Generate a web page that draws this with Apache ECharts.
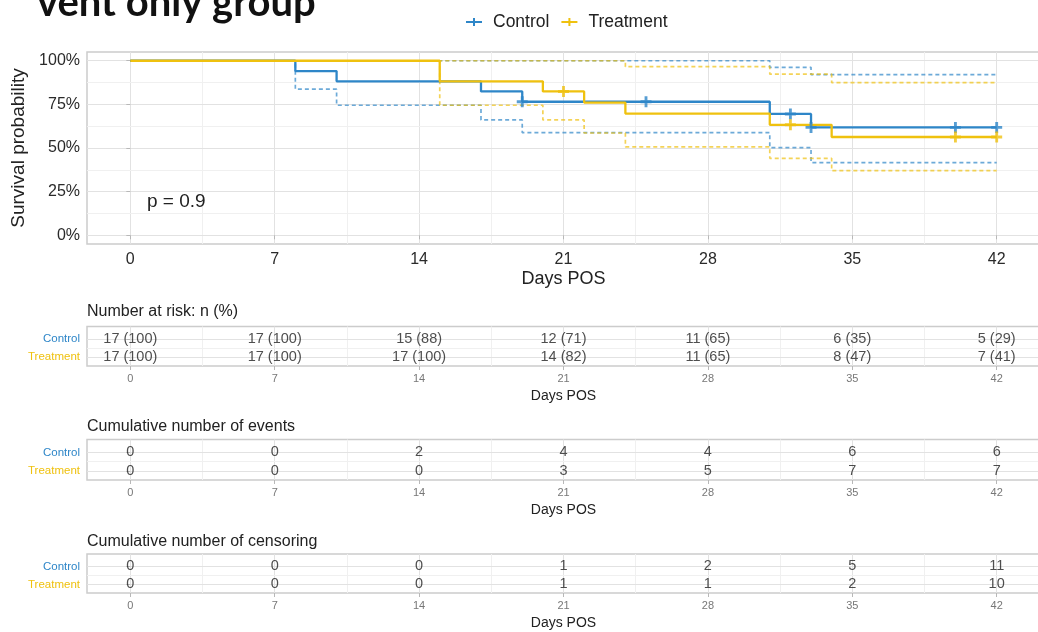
<!DOCTYPE html>
<html><head><meta charset="utf-8">
<script src="https://cdn.jsdelivr.net/npm/echarts@6/dist/echarts.min.js"></script>
<style>html,body{margin:0;padding:0;background:#fff;}#c{width:1038px;height:632px;}</style>
</head><body><div id="c"></div>
<script>
// ---------- data ----------
const dayTicks = [0, 7, 14, 21, 28, 35, 42];
const minorDayTicks = [3.5, 10.5, 17.5, 24.5, 31.5, 38.5];
const pctTicks = [0, 25, 50, 75, 100];
const minorPctTicks = [12.5, 37.5, 62.5, 87.5];
const groups = ['Control', 'Treatment'];

const ctrlTimes = [0, 8, 10, 17, 19, 31, 33, 42];
const ctrlSurv  = [100, 94.1, 88.2, 82.4, 76.5, 69.5, 61.8, 61.8];
const ctrlUpper = [100, 100, 100, 100, 100, 96.2, 92.0, 92.0];
const ctrlLower = [100, 83.7, 74.5, 66.1, 58.8, 50.2, 41.6, 41.6];

const trtTimes = [0, 15, 20, 22, 24, 31, 34, 42];
const trtSurv  = [100, 88.2, 82.4, 76.0, 69.7, 63.3, 56.3, 56.3];
const trtUpper = [100, 100, 100, 100, 96.6, 92.3, 87.5, 87.5];
const trtLower = [100, 74.5, 66.1, 58.6, 50.7, 44.1, 37.0, 37.0];

const ctrlCensorTimes = [19, 25, 32, 33, 40, 42];
const ctrlCensorSurv  = [76.5, 76.5, 69.5, 61.8, 61.8, 61.8];
const trtCensorTimes  = [21, 32, 40, 42];
const trtCensorSurv   = [82.4, 63.3, 56.3, 56.3];

const pValueText = 'p = 0.9';

const riskCtrl = ['17 (100)', '17 (100)', '15 (88)', '12 (71)', '11 (65)', '6 (35)', '5 (29)'];
const riskTrt  = ['17 (100)', '17 (100)', '17 (100)', '14 (82)', '11 (65)', '8 (47)', '7 (41)'];
const eventsCtrl = [0, 0, 2, 4, 4, 6, 6];
const eventsTrt  = [0, 0, 0, 3, 5, 7, 7];
const censCtrl = [0, 0, 0, 1, 2, 5, 11];
const censTrt  = [0, 0, 0, 1, 1, 2, 10];

const tableTitles = ['Number at risk: n (%)', 'Cumulative number of events', 'Cumulative number of censoring'];

// ---------- style ----------
const BLUE = '#2e86c8', YELLOW = '#efc10f';
const FONT = '"Liberation Sans", Arial, sans-serif';
const PLUS = 'path://M-1.3,-5H1.3V-1.3H5V1.3H1.3V5H-1.3V1.3H-5V-1.3H-1.3Z';
const LEG_ICON = 'path://M-8,-1H8V1H-8Z M-1,-4H1V4H-1Z';
const MAJOR = '#e2e2e2', MINOR = '#f0f0f0';

const pairs = (xs, ys) => xs.map((x, i) => [x, ys[i]]);

const grids = [
  {left: 87, top: 52, width: 953, height: 192},
  {left: 87, top: 326.5, width: 953, height: 39.5},
  {left: 87, top: 439.5, width: 953, height: 40.5},
  {left: 87, top: 554, width: 953, height: 39}
].map(g => Object.assign(g, {show: true, borderColor: '#cccccc', borderWidth: 1.5,
  backgroundColor: 'transparent', containLabel: false, outerBoundsMode: 'none'}));

function xAxisFor(i) {
  const main = i === 0;
  return {
    type: 'value', gridIndex: i, min: -2.1, max: 44.1,
    axisLine: {show: false}, splitLine: {show: false},
    axisTick: {show: true, length: 4, customValues: dayTicks, lineStyle: {color: '#b8b8b8', width: 1}},
    axisLabel: {customValues: dayTicks, fontFamily: FONT, fontSize: main ? 16 : 11,
      color: main ? '#2a2a2a' : '#777', margin: main ? 7.5 : 7},
    name: 'Days POS', nameLocation: 'middle', nameGap: main ? 26 : 23,
    nameTextStyle: {fontFamily: FONT, fontSize: main ? 18 : 14, color: '#222'}
  };
}

const yAxes = [{
  type: 'value', gridIndex: 0, min: -5, max: 105,
  axisLine: {show: false}, splitLine: {show: false},
  axisTick: {show: true, length: 4, customValues: pctTicks, lineStyle: {color: '#b8b8b8'}},
  axisLabel: {customValues: pctTicks, formatter: '{value}%', fontFamily: FONT, fontSize: 16, color: '#2a2a2a', margin: 7},
  name: 'Survival probability', nameLocation: 'middle', nameGap: 58, nameRotate: 90,
  nameTextStyle: {fontFamily: FONT, fontSize: 19, color: '#222'}
}];
for (let i = 1; i <= 3; i++) {
  yAxes.push({
    type: 'value', gridIndex: i, min: 0.31, max: 2.48, inverse: true,
    axisLine: {show: false}, splitLine: {show: false},
    axisTick: {show: true, length: 4, customValues: [1, 2], lineStyle: {color: '#b8b8b8'}},
    axisLabel: {customValues: [1, 2], margin: 7,
      formatter: v => v === 1 ? '{c|' + groups[0] + '}' : '{t|' + groups[1] + '}',
      rich: {c: {color: BLUE, fontSize: 11.5, fontFamily: FONT}, t: {color: YELLOW, fontSize: 11.5, fontFamily: FONT}}}
  });
}

function gridLineSeries(i) {
  const data = [];
  minorDayTicks.forEach(v => data.push({xAxis: v, lineStyle: {color: MINOR}}));
  dayTicks.forEach(v => data.push({xAxis: v, lineStyle: {color: MAJOR}}));
  if (i === 0) {
    minorPctTicks.forEach(v => data.push({yAxis: v, lineStyle: {color: MINOR}}));
    pctTicks.forEach(v => data.push({yAxis: v, lineStyle: {color: MAJOR}}));
  } else {
    [1.5].forEach(v => data.push({yAxis: v, lineStyle: {color: MINOR}}));
    [1, 2].forEach(v => data.push({yAxis: v, lineStyle: {color: MAJOR}}));
  }
  return {
    type: 'line', xAxisIndex: i, yAxisIndex: i, data: [], z: 0, silent: true,
    markLine: {silent: true, z: 0, symbol: ['none', 'none'], label: {show: false}, animation: false,
      lineStyle: {type: 'solid', width: 1}, emphasis: {disabled: true}, data: data}
  };
}

function ciSeries(name, xs, ys, color) {
  return {type: 'line', name: name, xAxisIndex: 0, yAxisIndex: 0, step: 'end', data: pairs(xs, ys),
    showSymbol: false, symbol: 'none', z: 2, silent: true,
    lineStyle: {color: color, width: 1.7, type: [4, 3], opacity: 0.7}};
}
function survSeries(name, xs, ys, color) {
  return {type: 'line', name: name, xAxisIndex: 0, yAxisIndex: 0, step: 'end', data: pairs(xs, ys),
    showSymbol: false, symbol: 'none', z: 3, silent: true, color: color,
    itemStyle: {color: color}, lineStyle: {color: color, width: 2.3}};
}
function censorSeries(name, xs, ys, color) {
  return {type: 'scatter', name: name + ' censor', xAxisIndex: 0, yAxisIndex: 0, data: pairs(xs, ys),
    symbol: PLUS, symbolSize: 11, z: 4, silent: true, itemStyle: {color: color}};
}
function tableSeries(i, ctrlVals, trtVals) {
  const data = [];
  dayTicks.forEach((d, k) => data.push([d, 1, String(ctrlVals[k])]));
  dayTicks.forEach((d, k) => data.push([d, 2, String(trtVals[k])]));
  return {type: 'scatter', xAxisIndex: i, yAxisIndex: i, data: data, symbolSize: 1, z: 5, silent: true,
    itemStyle: {color: 'rgba(0,0,0,0)'},
    label: {show: true, position: 'inside', formatter: p => p.value[2],
      fontFamily: FONT, fontSize: 14.5, color: '#222'}};
}

const series = [
  gridLineSeries(0), gridLineSeries(1), gridLineSeries(2), gridLineSeries(3),
  ciSeries('Control upper', ctrlTimes, ctrlUpper, BLUE),
  ciSeries('Control lower', ctrlTimes, ctrlLower, BLUE),
  ciSeries('Treatment upper', trtTimes, trtUpper, YELLOW),
  ciSeries('Treatment lower', trtTimes, trtLower, YELLOW),
  survSeries('Control', ctrlTimes, ctrlSurv, BLUE),
  survSeries('Treatment', trtTimes, trtSurv, YELLOW),
  censorSeries('Control', ctrlCensorTimes, ctrlCensorSurv, BLUE),
  censorSeries('Treatment', trtCensorTimes, trtCensorSurv, YELLOW),
  tableSeries(1, riskCtrl, riskTrt),
  tableSeries(2, eventsCtrl, eventsTrt),
  tableSeries(3, censCtrl, censTrt)
];

const tableTitleTops = [304, 419, 534];
const graphics = [
  {type: 'text', left: 37, top: -17, silent: true, z: 10,
    style: {text: 'vent only group', font: 'bold 40px Lato, "Open Sans", sans-serif', fill: '#111'}},
  {type: 'text', left: 147, top: 192, silent: true, z: 10,
    style: {text: pValueText, font: '19px ' + FONT, fill: '#222'}}
];
tableTitles.forEach((t, k) => graphics.push({type: 'text', left: 87, top: tableTitleTops[k], silent: true, z: 10,
  style: {text: t, font: '16px ' + FONT, fill: '#222'}}));

const chart = echarts.init(document.getElementById('c'), null, {renderer: 'canvas'});
chart.setOption({
  animation: false,
  backgroundColor: '#ffffff',
  textStyle: {fontFamily: FONT},
  tooltip: {show: false},
  legend: {
    data: [{name: 'Control', icon: LEG_ICON}, {name: 'Treatment', icon: LEG_ICON}],
    left: 466, top: 13, padding: 0, itemWidth: 16, itemHeight: 8, itemGap: 12, selectedMode: false,
    textStyle: {fontFamily: FONT, fontSize: 17.5, color: '#222', padding: [0, 0, 0, 6]}
  },
  grid: grids,
  xAxis: [0, 1, 2, 3].map(xAxisFor),
  yAxis: yAxes,
  graphic: graphics,
  series: series
});
</script></body></html>
